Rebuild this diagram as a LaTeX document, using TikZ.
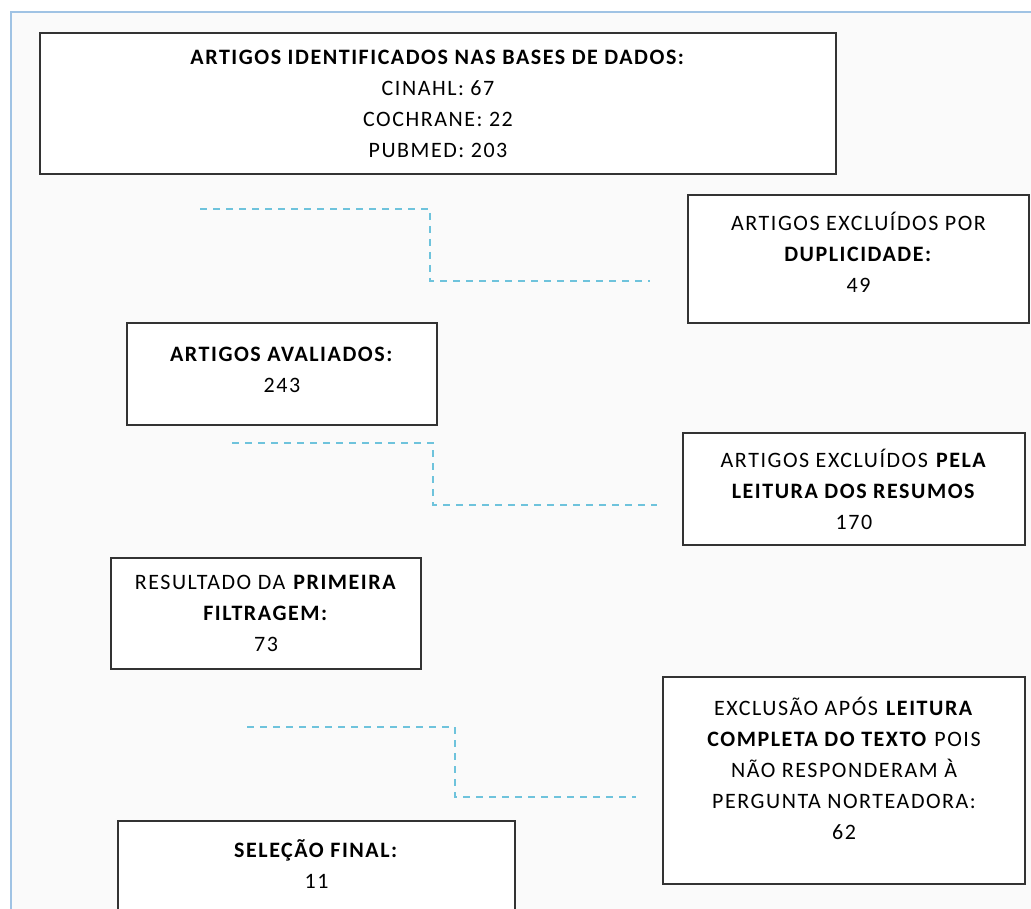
\documentclass[tikz,border=0pt]{standalone}
\usepackage{fontspec}
\setmainfont{Carlito}[LetterSpace=7]
\usepackage{tikz}

\definecolor{framebl}{RGB}{160,195,228}
\definecolor{dashbl}{RGB}{110,195,220}

\tikzset{
  caixa/.style={draw=black!80, line width=1.3pt, fill=white, align=center,
    inner sep=0pt, font=\fontsize{22}{31}\selectfont},
  tracejado/.style={draw=dashbl, line width=1.6pt, dash pattern=on 7pt off 6pt}
}

\begin{document}
\begin{tikzpicture}[x=1pt,y=-1pt]
			\useasboundingbox (0,0) rectangle (1031,909);
			\clip (0,0) rectangle (1031,909);
			\draw[framebl, line width=2.5pt, fill=black!2] (11,12) rectangle (1060,940);
			% caixas
			\node[caixa, minimum width=796pt, minimum height=141pt] (bases) at (438,103.5) {\textbf{ARTIGOS IDENTIFICADOS NAS BASES DE DADOS:}\\CINAHL: 67\\COCHRANE: 22\\PUBMED: 203};
			\node[caixa, minimum width=341pt, minimum height=128pt, text depth=14pt] (dup) at (858.5,259) {ARTIGOS EXCLUÍDOS POR\\\textbf{DUPLICIDADE:}\\49};
			\node[caixa, minimum width=310pt, minimum height=102pt, text depth=8pt] (aval) at (282,374) {\textbf{ARTIGOS AVALIADOS:}\\243};
			\node[caixa, minimum width=342pt, minimum height=112pt] (resumos) at (854,489) {ARTIGOS EXCLUÍDOS \textbf{PELA}\\\textbf{LEITURA DOS RESUMOS}\\170};
			\node[caixa, minimum width=310pt, minimum height=111pt, text depth=-8pt] (filtr) at (266,613.5) {RESULTADO DA \textbf{PRIMEIRA}\\\textbf{FILTRAGEM:}\\73};
			\node[caixa, minimum width=362pt, minimum height=207pt, text depth=24pt] (leitura) at (844,780.5) {EXCLUSÃO APÓS \textbf{LEITURA}\\\textbf{COMPLETA DO TEXTO} POIS\\NÃO RESPONDERAM À\\PERGUNTA NORTEADORA:\\62};
			\node[caixa, minimum width=397pt, minimum height=100pt, text depth=14pt] (final) at (316.5,871) {\textbf{SELEÇÃO FINAL:}\\11};
			% ligacoes tracejadas
			\coordinate (d1a) at (200,209);
			\coordinate (d1b) at (650,281);
			\coordinate (d2a) at (232,443);
			\coordinate (d2b) at (657,505);
			\coordinate (d3a) at (247,727);
			\coordinate (d3b) at (636,797);
			\draw[tracejado] (d1a) -- (430,209) -- (430,281) -- (d1b);
			\draw[tracejado] (d2a) -- (433,443) -- (433,505) -- (d2b);
			\draw[tracejado] (d3a) -- (455,727) -- (455,797) -- (d3b);
		\end{tikzpicture}
\end{document}
